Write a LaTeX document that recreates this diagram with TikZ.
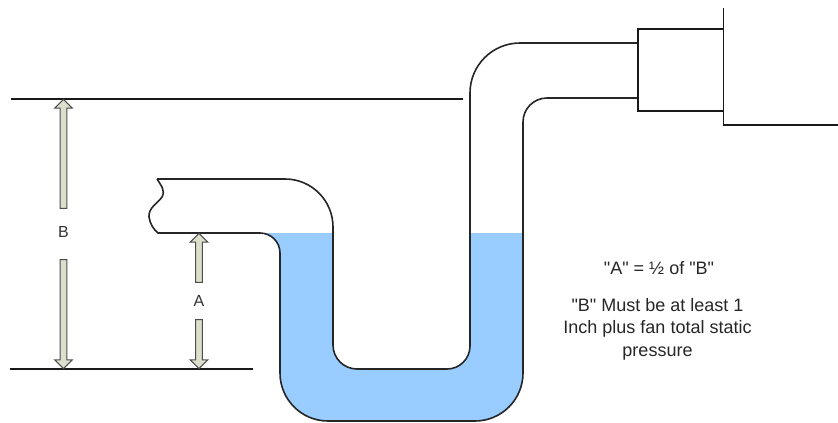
\documentclass[tikz,border=0pt]{standalone}
\usepackage{fontspec}
\setmainfont{Liberation Sans}[Ligatures=TeXOff]
\usepackage{tikz}
\usetikzlibrary{shapes.arrows}
\definecolor{waterblue}{HTML}{99CCFF}
\definecolor{arrowfill}{HTML}{DDDFCC}
\tikzset{
  pipeline/.style={draw=black!85, line width=1.6pt},
  thinline/.style={draw=black!90, line width=1.2pt},
  dimarrow/.style={single arrow, draw=black!70, fill=arrowfill, line width=1.1pt,
    inner xsep=0pt, inner ysep=2.8pt, single arrow head extend=5.5pt,
    minimum width=17pt, single arrow head indent=0pt},
  dimlabel/.style={font=\fontsize{16}{18}\selectfont, text=black!80},
  notelabel/.style={font=\fontsize{18}{22.5}\selectfont, text=black!85, align=center}
}
\begin{document}
\begin{tikzpicture}[x=1pt, y=-1pt]
\useasboundingbox (0,0) rectangle (838,423);
\fill[waterblue] (260,233) -- (333,233) -- (333,345) arc[start angle=-180, end angle=-270, radius=24] -- (447,369)
  arc[start angle=-270, end angle=-360, radius=23] -- (470,233) -- (523,233) -- (523,373)
  arc[start angle=0, end angle=90, radius=48] -- (328,421) arc[start angle=-270, end angle=-180, radius=48] -- (280,253)
  arc[start angle=0, end angle=-90, radius=20] -- cycle;
\draw[pipeline] (157,179) -- (285,179) arc[start angle=-90, end angle=0, radius=48] -- (333,345)
  arc[start angle=-180, end angle=-270, radius=24] -- (447,369) arc[start angle=-270, end angle=-360, radius=23]
  -- (470,93) arc[start angle=-180, end angle=-90, radius=50] -- (638,43);
\draw[pipeline] (157,179) .. controls (160,184) and (166,190) .. (162,197)
  .. controls (158,203) and (148,208) .. (149,217) .. controls (150,224) and (154,230) .. (158,233)
  -- (260,233) arc[start angle=-90, end angle=0, radius=20] -- (280,373)
  arc[start angle=-180, end angle=-270, radius=48] -- (475,421) arc[start angle=90, end angle=0, radius=48]
  -- (523,122) arc[start angle=-180, end angle=-90, radius=24] -- (638,98);
\draw[thinline] (723.5,29) -- (638,29) -- (638,111) -- (723.5,111);
\draw[thinline] (723.5,8) -- (723.5,125) -- (838,125);
\draw[thinline] (11,99) -- (463,99);
\draw[thinline] (10,369) -- (253,369);
\node[dimarrow, minimum height=109pt, rotate=90] (arrowBup) at (63.5,155.5) {};
\node[dimarrow, minimum height=109pt, rotate=-90] (arrowBdown) at (63.5,312.5) {};
\node[dimarrow, minimum height=49pt, rotate=90] (arrowAup) at (199,259.5) {};
\node[dimarrow, minimum height=49pt, rotate=-90] (arrowAdown) at (199,342.5) {};
\node[dimlabel] (labelB) at (63.5,232) {B};
\node[dimlabel] (labelA) at (199,301) {A};
\node[notelabel] (noteratio) at (659,268) {"A" = ½ of "B"};
\node[notelabel] (noterule) at (657.5,329) {"B" Must be at least 1\\Inch plus fan total static\\pressure};
\end{tikzpicture}
\end{document}
